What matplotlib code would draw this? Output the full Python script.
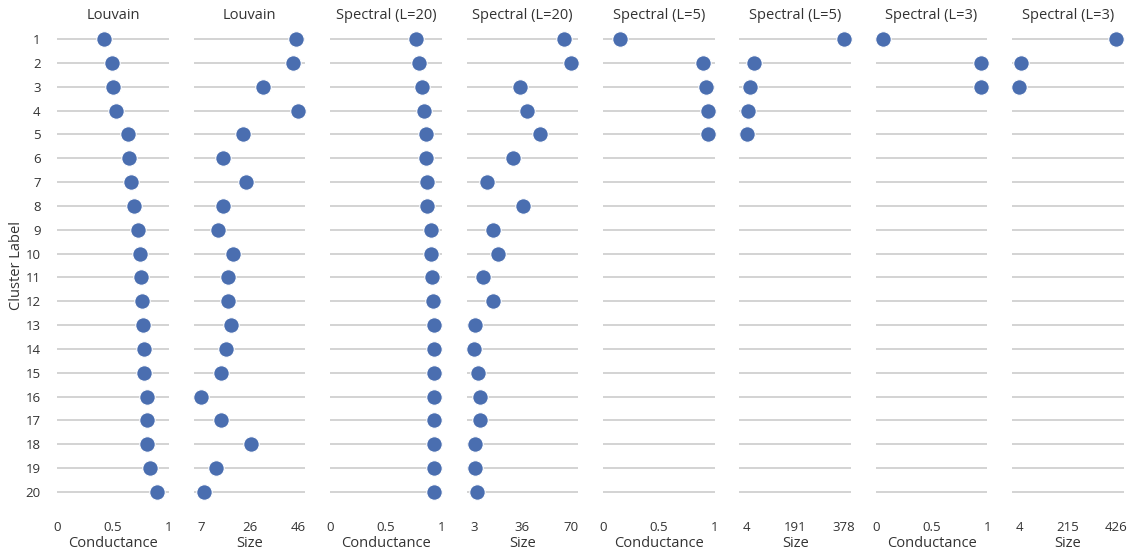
import matplotlib
matplotlib.use("Agg")
import matplotlib.pyplot as plt
import numpy as np

clusters = list(range(1, 21))

titles = ["Louvain", "Louvain", "Spectral (L=20)", "Spectral (L=20)",
          "Spectral (L=5)", "Spectral (L=5)", "Spectral (L=3)", "Spectral (L=3)"]
xlabels = ["Conductance", "Size"] * 4

louvain_cond = [0.418, 0.490, 0.496, 0.526, 0.630, 0.645, 0.663, 0.687, 0.720, 0.743,
                0.749, 0.761, 0.767, 0.773, 0.776, 0.800, 0.800, 0.800, 0.830, 0.890]
louvain_size = [45, 44, 32, 46, 24, 16, 25, 16, 14, 20, 18, 18, 19, 17, 15, 7, 15, 27, 13, 8]

spec20_cond = [0.770, 0.797, 0.824, 0.845, 0.857, 0.862, 0.866, 0.871, 0.907, 0.907,
               0.913, 0.925, 0.928, 0.928, 0.928, 0.928, 0.928, 0.928, 0.928, 0.928]
spec20_size = [65, 70, 35, 40, 49, 30, 12, 37, 16, 20, 9, 16, 4, 3, 6, 7, 7, 4, 4, 5]

spec5_cond = [0.155, 0.900, 0.925, 0.940, 0.942]
spec5_size = [378, 33, 16, 8, 4]

spec3_cond = [0.063, 0.943, 0.943]
spec3_size = [426, 9, 4]

series = [louvain_cond, louvain_size, spec20_cond, spec20_size,
          spec5_cond, spec5_size, spec3_cond, spec3_size]

cond_ticks = [0, 0.5, 1]
cond_ticklabels = ["0", "0.5", "1"]
size_ticklabels = [["7", "26", "46"], ["3", "36", "70"], ["4", "191", "378"], ["4", "215", "426"]]

DOT = "#4a6eb0"
GRID = "#d3d3d3"
TXT = "#333333"

plt.rcParams['font.family'] = ['Open Sans', 'DejaVu Sans']

W, H = 1133, 552
fig = plt.figure(figsize=(W / 100, H / 100), dpi=100)

left0 = 57.3
step = 136.4
width = 111.7
top_px = 27.1
bot_px = 503.9

for i in range(8):
    lx = left0 + step * i
    ax = fig.add_axes([lx / W, 1 - bot_px / H, width / W, (bot_px - top_px) / H])
    vals = series[i]
    ys = clusters[:len(vals)]
    ax.set_ylim(20.5, 0.5)
    ax.set_yticks(clusters)
    ax.grid(axis='y', color=GRID, linewidth=1.4, zorder=0)
    ax.grid(axis='x', visible=False)
    ax.scatter(vals, ys, s=125, color=DOT, edgecolor='white', linewidth=0.8, zorder=3, clip_on=False)
    if i % 2 == 0:
        ax.set_xlim(0, 1)
        ax.set_xticks(cond_ticks)
        ax.set_xticklabels(cond_ticklabels)
    else:
        mn, mx = min(vals), max(vals)
        pad = 0.0758 * (mx - mn)
        ax.set_xlim(mn - pad, mx + pad)
        ax.set_xticks([mn, (mn + mx) / 2, mx])
        ax.set_xticklabels(size_ticklabels[i // 2])
    for s in ax.spines.values():
        s.set_visible(False)
    ax.tick_params(axis='both', length=0, labelsize=9.5, colors=TXT)
    ax.tick_params(axis='x', pad=12)
    ax.tick_params(axis='y', pad=12)
    if i != 0:
        ax.set_yticklabels([])
    ax.set_xlabel(xlabels[i], fontsize=10.5, color=TXT, labelpad=2)
    ax.set_title(titles[i], fontsize=10.5, color=TXT, pad=6)
    ax.set_axisbelow(True)

fig.text(17 / W, 1 - 265 / H, "Cluster Label", rotation=90, fontsize=10.5, color=TXT,
         ha='center', va='center')

fig.savefig("out.png", dpi=100, facecolor='white')
